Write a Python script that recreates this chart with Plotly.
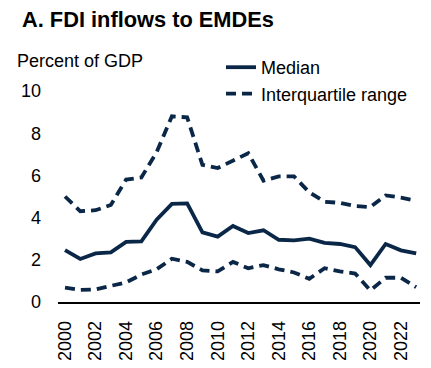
import plotly.graph_objects as go

years = list(range(2000, 2024))
median = [2.46, 2.04, 2.3, 2.35, 2.85, 2.87, 3.9, 4.65, 4.67, 3.3, 3.1, 3.6, 3.27, 3.4,
          2.95, 2.92, 3.0, 2.8, 2.75, 2.6, 1.75, 2.75, 2.45, 2.3]
upper = [5.0, 4.3, 4.35, 4.6, 5.8, 5.9, 7.1, 8.8, 8.75, 6.5, 6.35, 6.7, 7.05, 5.75,
         5.95, 5.95, 5.2, 4.75, 4.7, 4.55, 4.5, 5.05, 4.95, 4.8]
lower = [0.68, 0.57, 0.6, 0.75, 0.93, 1.3, 1.55, 2.05, 1.9, 1.5, 1.45, 1.9, 1.6, 1.75,
         1.55, 1.4, 1.1, 1.6, 1.45, 1.35, 0.55, 1.15, 1.15, 0.7]
tick_years = list(range(2000, 2024, 2))
y_ticks = [0, 2, 4, 6, 8, 10]

color = "#0b2748"
font = "Liberation Sans, Arial, sans-serif"

# page body has an 8px margin, so the figure is drawn 8px in from the window's edge
OFF = 8
W, H = 431 - OFF, 368 - OFF
l, r, t, b = 58 - OFF, 11, 91 - OFF, 66
pw, ph = W - l - r, H - t - b

dash = "10px,6px"
fig = go.Figure()
fig.add_trace(go.Scatter(x=years, y=median, mode="lines", name="Median",
                         line=dict(color=color, width=3.8)))
fig.add_trace(go.Scatter(x=years, y=upper, mode="lines", name="Interquartile range",
                         line=dict(color=color, width=3.8, dash=dash)))
fig.add_trace(go.Scatter(x=years, y=lower, mode="lines", name="Interquartile range",
                         line=dict(color=color, width=3.8, dash=dash), showlegend=False))


def ann(text, px, py, size, weight="normal"):
    px, py = px - OFF, py - OFF
    return dict(text=text, x=(px - l) / pw, y=(H - b - py) / ph, xref="paper", yref="paper",
                xanchor="left", yanchor="middle", showarrow=False, borderpad=0, borderwidth=0,
                font=dict(size=size, color="black", family=font, weight=weight))


fig.update_layout(
    width=W, height=H,
    margin=dict(l=l, r=r, t=t, b=b, autoexpand=False),
    paper_bgcolor="white", plot_bgcolor="white",
    font=dict(family=font, size=18, color="black"),
    showlegend=True,
    legend=dict(x=(263 - OFF - 42) / W, y=1 - (49 - OFF) / H, xref="container", yref="container",
                xanchor="left", yanchor="top",
                bgcolor="rgba(0,0,0,0)", font=dict(size=18), tracegroupgap=0, itemwidth=30),
    xaxis=dict(range=[1999.54, 2023.25], tickvals=tick_years, ticktext=[str(y) for y in tick_years],
               tickangle=-90, showgrid=False, zeroline=False, showline=True, linecolor="black",
               linewidth=1.5, ticks="", tickfont=dict(size=18), automargin=False,
               ticklabelstandoff=10),
    yaxis=dict(range=[0, 10], tickvals=y_ticks, showgrid=False, zeroline=False, showline=False,
               ticks="", tickfont=dict(size=18), automargin=False, ticklabelstandoff=16),
    annotations=[
        ann("A. FDI inflows to EMDEs", 22, 19, 21.8, "bold"),
        ann("Percent of GDP", 17, 61, 18),
    ],
)

fig.write_html("out.html")
